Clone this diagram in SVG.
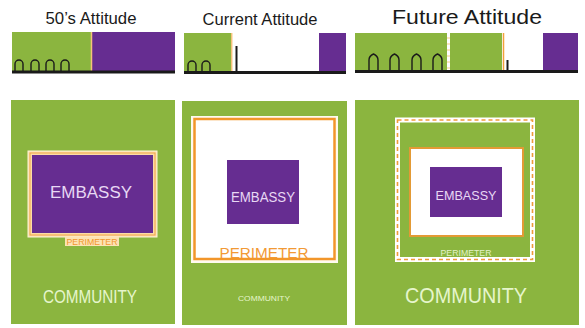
<svg xmlns="http://www.w3.org/2000/svg" width="585" height="328" viewBox="0 0 585 328">
<style>
.t{font-family:"Liberation Sans",Arial,sans-serif;fill:#1a1a1a;text-anchor:middle}
.g{fill:#8bb53f}
.p{fill:#662d91}
.gr{stroke:#1a1a1a;stroke-width:3}
.arch{fill:none;stroke:#1a1a1a;stroke-width:1.4}
.lbl{font-family:"Liberation Sans",Arial,sans-serif;text-anchor:middle}
.emb{fill:#e8d8f4}
.com{fill:#e6f5cc}
</style>
<rect width="585" height="328" fill="#ffffff"/>
<g id="top-50s">
<text class="t" x="91" y="24" font-size="16.5" textLength="91" lengthAdjust="spacingAndGlyphs">50’s Attitude</text>
<rect class="g" x="12" y="32" width="80" height="40"/>
<rect class="p" x="92" y="32" width="83" height="40"/>
<line x1="91.5" y1="32" x2="91.5" y2="71" stroke="#f6c27a" stroke-width="1.5"/>
<path class="arch" d="M15,71V64A4,4 0 0 1 23,64V71M31,71V64A4,4 0 0 1 39,64V71M46,71V64A4,4 0 0 1 54,64V71M61,71V64A4,4 0 0 1 69,64V71"/>
<line class="gr" x1="12" y1="72" x2="175" y2="72"/>
</g>
<g id="top-current">
<text class="t" x="260" y="25" font-size="16.5" textLength="115" lengthAdjust="spacingAndGlyphs">Current Attitude</text>
<rect class="g" x="184" y="33" width="47" height="39"/>
<line x1="231.7" y1="33" x2="231.7" y2="71" stroke="#f6c27a" stroke-width="1.5"/>
<line x1="236.5" y1="46" x2="236.5" y2="72" stroke="#1a1a1a" stroke-width="2"/>
<rect class="p" x="319" y="33" width="27" height="39"/>
<path class="arch" d="M188,72V65A4,4 0 0 1 196,65V72M202,72V65A4,4 0 0 1 210,65V72"/>
<line class="gr" x1="184" y1="72.5" x2="346" y2="72.5"/>
</g>
<g id="top-future">
<text class="t" x="467" y="24" font-size="20" textLength="150" lengthAdjust="spacingAndGlyphs">Future Attitude</text>
<rect class="g" x="355" y="33" width="147" height="38"/>
<line x1="448.5" y1="33" x2="448.5" y2="70" stroke="#fbe6c0" stroke-width="3"/>
<line x1="448.5" y1="33" x2="448.5" y2="70" stroke="#ffffff" stroke-width="3" stroke-dasharray="4 2"/>
<line x1="503.5" y1="33" x2="503.5" y2="70" stroke="#f3a03a" stroke-width="1.5"/>
<line x1="507.5" y1="60" x2="507.5" y2="71" stroke="#1a1a1a" stroke-width="2"/>
<rect class="p" x="543" y="33" width="35" height="38"/>
<path class="arch" d="M369,71V60Q369,56 373.5,54Q378,56 378,60V71M390,71V60Q390,56 394.5,54Q399,56 399,60V71M412,71V60Q412,56 416.5,54Q421,56 421,60V71M433,71V60Q433,56 437.5,54Q442,56 442,60V71"/>
<line class="gr" x1="355" y1="71.5" x2="578" y2="71.5"/>
</g>
<g id="panel-50s">
<rect class="g" x="11" y="100" width="164" height="224"/>
<rect x="28" y="151" width="129" height="86" fill="#fbdca6" stroke="#fff3d8" stroke-width="1"/>
<rect x="30" y="153" width="125" height="82" fill="none" stroke="#f2a448" stroke-width="1"/>
<rect class="p" x="32" y="155" width="121" height="78"/>
<text class="lbl emb" x="91" y="198" font-size="16" textLength="82" lengthAdjust="spacingAndGlyphs">EMBASSY</text>
<rect x="65" y="237" width="54" height="9" fill="#fce3b4"/>
<text class="lbl" x="92" y="245" font-size="9" fill="#f2962a" textLength="51" lengthAdjust="spacingAndGlyphs">PERIMETER</text>
<text class="lbl com" x="90" y="303" font-size="18" textLength="94" lengthAdjust="spacingAndGlyphs">COMMUNITY</text>
</g>
<g id="panel-current">
<rect class="g" x="182" y="101" width="165" height="224"/>
<rect x="191" y="116" width="147" height="147" fill="#fffaf0"/>
<rect x="194.5" y="119" width="140" height="140" fill="#ffffff" stroke="#f2962a" stroke-width="2.5"/>
<rect class="p" x="227" y="160" width="72" height="64"/>
<text class="lbl emb" x="263" y="202" font-size="14" textLength="64" lengthAdjust="spacingAndGlyphs">EMBASSY</text>
<text class="lbl" x="264" y="258" font-size="15.5" fill="#f29a35" textLength="89" lengthAdjust="spacingAndGlyphs">PERIMETER</text>
<text class="lbl com" x="264" y="301" font-size="8" textLength="52" lengthAdjust="spacingAndGlyphs">COMMUNITY</text>
</g>
<g id="panel-future">
<rect class="g" x="355" y="100" width="224" height="225"/>
<rect x="397.5" y="120" width="135" height="139.5" fill="none" stroke="#ffffff" stroke-width="5"/>
<rect x="397.5" y="120" width="135" height="139.5" fill="none" stroke="#ee9a3a" stroke-width="1.6" stroke-dasharray="4 3"/>
<rect x="410" y="148" width="113" height="88" fill="#ffffff" stroke="#e39a35" stroke-width="2"/>
<rect class="p" x="430" y="167" width="72" height="50"/>
<text class="lbl emb" x="466" y="200" font-size="13.5" textLength="61" lengthAdjust="spacingAndGlyphs">EMBASSY</text>
<text class="lbl" x="466" y="256" font-size="9" fill="#e2f2c8" textLength="51" lengthAdjust="spacingAndGlyphs">PERIMETER</text>
<text class="lbl com" x="466" y="303" font-size="22" textLength="122" lengthAdjust="spacingAndGlyphs">COMMUNITY</text>
</g>
</svg>
